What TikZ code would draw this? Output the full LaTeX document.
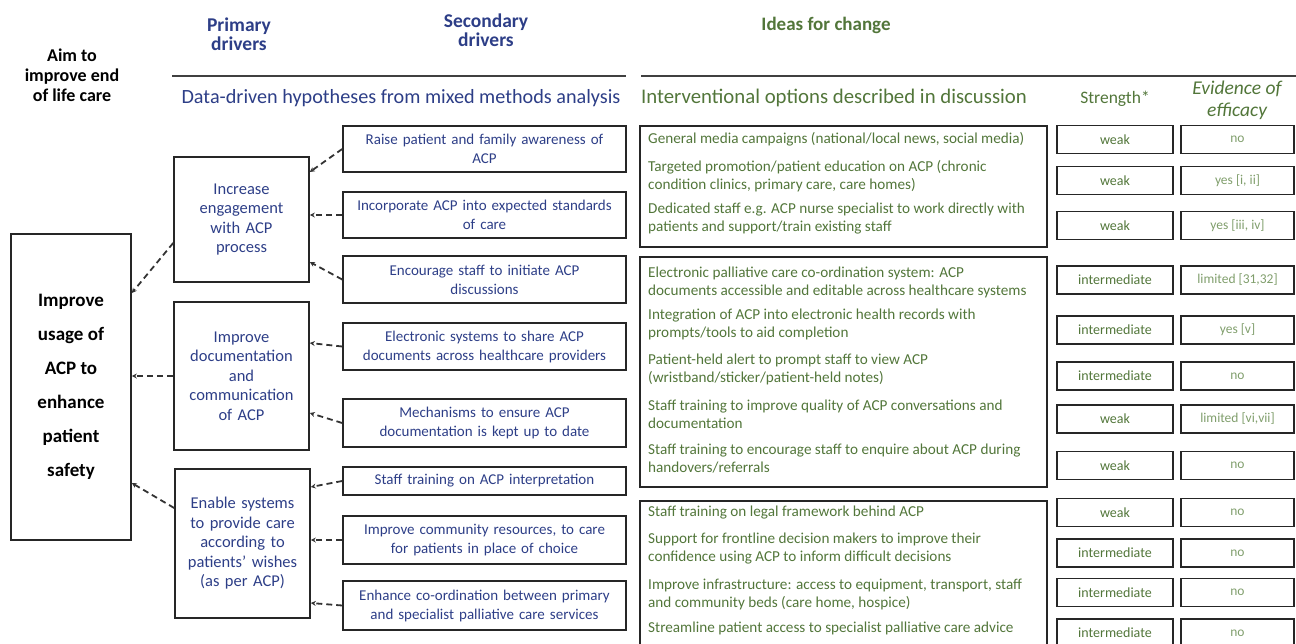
\documentclass[tikz,border=0pt]{standalone}
\usepackage{fontspec}
\setmainfont{Carlito}
\usetikzlibrary{calc,positioning,arrows.meta}
\definecolor{navy}{RGB}{45,62,135}
\definecolor{leaf}{RGB}{82,118,58}
\definecolor{paleleaf}{RGB}{128,158,108}
\tikzset{
  box/.style={draw=black!85,line width=1.6pt,inner sep=2pt,align=center},
  aimbox/.style={box,minimum width=120pt,minimum height=306pt,font=\fontsize{19}{34}\selectfont\bfseries},
  pdbox/.style={box,minimum width=135pt,text width=128pt,text=navy,font=\fontsize{16.5}{19.5}\selectfont},
  sdbox/.style={box,minimum width=283pt,text width=276pt,text=navy,font=\fontsize{15}{19}\selectfont},
  grpbox/.style={draw=black!85,line width=1.6pt,minimum width=407pt},
  opt/.style={anchor=west,align=left,inner sep=0pt,text=leaf,font=\fontsize{15.2}{18}\selectfont},
  strbox/.style={box,minimum width=116pt,minimum height=28pt,text=leaf,font=\fontsize{14}{16}\selectfont},
  evibox/.style={box,minimum width=113pt,minimum height=28pt,text=paleleaf,font=\fontsize{13.5}{15}\selectfont},
  head/.style={align=center,font=\fontsize{19.5}{19.5}\selectfont\bfseries},
  link/.style={draw=black!80,line width=1.8pt,dash pattern=on 6pt off 4pt,-{Stealth[length=5pt,width=5pt]}},
  rule/.style={draw=black!75,line width=2.2pt}
}
\begin{document}
\begin{tikzpicture}[x=1pt,y=-1pt]
  \useasboundingbox (0,0) rectangle (1296,643);
  \clip (0,0) rectangle (1296,643);
  % column headings
  \node[head,font=\fontsize{18}{20}\selectfont\bfseries] (aimhead) at (72,75) {Aim to\\improve end\\of life care};
  \node[head,text=navy] (pdhead) at (239,34) {Primary\\drivers};
  \node[head,text=navy] (sdhead) at (486,30) {Secondary\\drivers};
  \node[head,text=leaf,font=\fontsize{19}{20}\selectfont\bfseries] (ichead) at (826,25) {Ideas for change};
  \draw[rule] (172,76) -- (626,76);
  \draw[rule] (641,76) -- (1296,76);
  \node[text=navy,font=\fontsize{20.2}{22}\selectfont] (dhhead) at (401,98) {Data-driven hypotheses from mixed methods analysis};
  \node[text=leaf,font=\fontsize{20.8}{22}\selectfont] (iohead) at (834,98) {Interventional options described in discussion};
  \node[text=leaf,font=\fontsize{17.5}{20}\selectfont] (sthead) at (1115,99) {Strength*};
  \node[text=leaf,align=center,font=\fontsize{19.5}{22}\selectfont\itshape] (evhead) at (1237,100) {Evidence of\\efficacy};
  % aim and drivers
  \node[aimbox] (aim) at (71,387) {Improve\\usage of\\ACP to\\enhance\\patient\\safety};
  \node[pdbox,minimum height=125pt] (pd1) at (241.5,219.5) {Increase\\engagement\\with ACP\\process};
  \node[pdbox,minimum height=148pt] (pd2) at (241.5,376) {Improve\\documentation\\and\\communication\\of ACP};
  \node[pdbox,minimum height=149pt] (pd3) at (242.5,543.5) {Enable systems\\to provide care\\according to\\patients' wishes\\(as per ACP)};
  \node[sdbox,minimum height=46pt] (sd1) at (484.5,149) {Raise patient and family awareness of\\ACP};
  \node[sdbox,minimum height=46pt] (sd2) at (484.5,215) {Incorporate ACP into expected standards\\of care};
  \node[sdbox,minimum height=47pt] (sd3) at (484.5,279.5) {Encourage staff to initiate ACP\\discussions};
  \node[sdbox,minimum height=47pt] (sd4) at (484.5,346.5) {Electronic systems to share ACP\\documents across healthcare providers};
  \node[sdbox,minimum height=48pt] (sd5) at (484.5,423) {Mechanisms to ensure ACP\\documentation is kept up to date};
  \node[sdbox,minimum height=28pt] (sd6) at (484.5,481) {Staff training on ACP interpretation};
  \node[sdbox,minimum height=48pt] (sd7) at (484.5,540) {Improve community resources, to care\\for patients in place of choice};
  \node[sdbox,minimum height=49pt] (sd8) at (484.5,605.5) {Enhance co-ordination between primary\\and specialist palliative care services};
  % dashed links
  \draw[link] ($(pd1.west)+(0,23.5)$) -- ($(aim.east)+(0,-94)$);
  \draw[link] (pd2.west) -- (pd2.west -| aim.east);
  \draw[link] ($(pd3.west)+(0,-35.5)$) -- ($(aim.east)+(0,96)$);
  \draw[link] (sd1.west) -- ($(pd1.east)+(0,-47.5)$);
  \draw[link] (sd2.west) -- (sd2.west -| pd1.east);
  \draw[link] (sd3.west) -- ($(pd1.east)+(0,42.5)$);
  \draw[link] (sd4.west) -- ($(pd2.east)+(0,-33)$);
  \draw[link] (sd5.west) -- ($(pd2.east)+(0,37)$);
  \draw[link] (sd6.west) -- ($(pd3.east)+(0,-56.5)$);
  \draw[link] (sd7.west) -- (sd7.west -| pd3.east);
  \draw[link] (sd8.west) -- ($(pd3.east)+(0,59.5)$);
  % ideas for change
  \node[grpbox,minimum height=121pt] (grp1) at (843.5,186.5) {};
  \node[grpbox,minimum height=230pt] (grp2) at (843.5,372) {};
  \node[grpbox,minimum height=158pt] (grp3) at (843.5,580) {};
  \node[opt] (opt1) at (648,139) {General media campaigns (national/local news, social media)};
  \node[opt] (opt2) at (648,176) {Targeted promotion/patient education on ACP (chronic\\condition clinics, primary care, care homes)};
  \node[opt] (opt3) at (648,219) {Dedicated staff e.g. ACP nurse specialist to work directly with\\patients and support/train existing staff};
  \node[opt] (opt4) at (648,282.5) {Electronic palliative care co-ordination system: ACP\\documents accessible and editable across healthcare systems};
  \node[opt] (opt5) at (648,324) {Integration of ACP into electronic health records with\\prompts/tools to aid completion};
  \node[opt] (opt6) at (648,369) {Patient-held alert to prompt staff to view ACP\\(wristband/sticker/patient-held notes)};
  \node[opt] (opt7) at (648,414) {Staff training to improve quality of ACP conversations and\\documentation};
  \node[opt] (opt8) at (648,459) {Staff training to encourage staff to enquire about ACP during\\handovers/referrals};
  \node[opt] (opt9) at (648,513) {Staff training on legal framework behind ACP};
  \node[opt] (opt10) at (648,549) {Support for frontline decision makers to improve their\\confidence using ACP to inform difficult decisions};
  \node[opt] (opt11) at (648,594) {Improve infrastructure: access to equipment, transport, staff\\and community beds (care home, hospice)};
  \node[opt] (opt12) at (648,628) {Streamline patient access to specialist palliative care advice};
  % strength and evidence
  \node[strbox] (str1) at (1115,139.5) {weak};
  \node[strbox] (str2) at (1115,180.5) {weak};
  \node[strbox] (str3) at (1115,225.5) {weak};
  \node[strbox] (str4) at (1115,280) {intermediate};
  \node[strbox] (str5) at (1115,330) {intermediate};
  \node[strbox] (str6) at (1115,376) {intermediate};
  \node[strbox] (str7) at (1115,419) {weak};
  \node[strbox] (str8) at (1115,465.5) {weak};
  \node[strbox] (str9) at (1115,512.5) {weak};
  \node[strbox] (str10) at (1115,553) {intermediate};
  \node[strbox] (str11) at (1115,592.5) {intermediate};
  \node[strbox] (str12) at (1115,633) {intermediate};
  \node[evibox] (evi1) at (1237.5,139.5) {no};
  \node[evibox] (evi2) at (1237.5,180.5) {yes [i, ii]};
  \node[evibox] (evi3) at (1237.5,225.5) {yes [iii, iv]};
  \node[evibox] (evi4) at (1237.5,280) {limited [31,32]};
  \node[evibox] (evi5) at (1237.5,330) {yes [v]};
  \node[evibox] (evi6) at (1237.5,376) {no};
  \node[evibox] (evi7) at (1237.5,419) {limited [vi,vii]};
  \node[evibox] (evi8) at (1237.5,465.5) {no};
  \node[evibox] (evi9) at (1237.5,512.5) {no};
  \node[evibox] (evi10) at (1237.5,553) {no};
  \node[evibox] (evi11) at (1237.5,592.5) {no};
  \node[evibox] (evi12) at (1237.5,633) {no};
\end{tikzpicture}
\end{document}
